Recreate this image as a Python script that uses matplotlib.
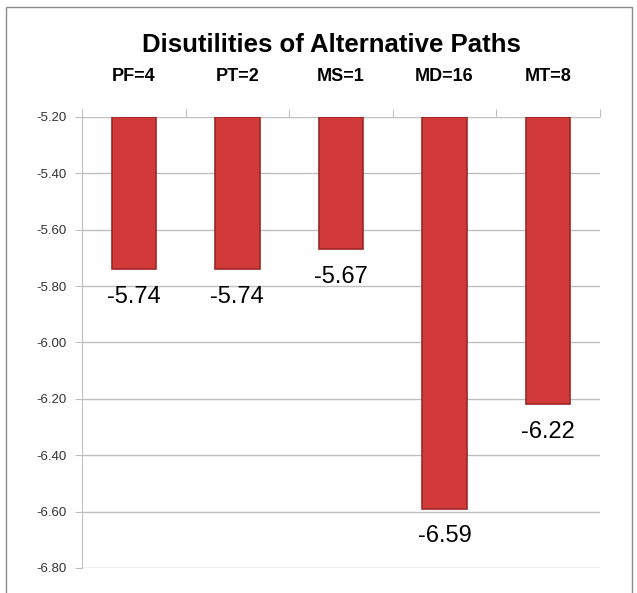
import matplotlib.pyplot as plt
from matplotlib.patches import Rectangle
import numpy as np

plt.rcParams["font.family"] = ["Liberation Sans", "DejaVu Sans"]

categories = ["PF=4", "PT=2", "MS=1", "MD=16", "MT=8"]
values = [-5.74, -5.74, -5.67, -6.59, -6.22]
y_ticks = [-5.20, -5.40, -5.60, -5.80, -6.00, -6.20, -6.40, -6.60, -6.80]
base = -5.20

fig = plt.figure(figsize=(6.37, 5.93), dpi=100)
ax = fig.add_axes([0.1287, 0.0422, 0.813, 0.7605])

# chart border like the excel chart area
fig.patches.append(Rectangle((6 / 637, -0.05), 626 / 637, 1.05 - 7 / 593,
                             transform=fig.transFigure, fill=False,
                             edgecolor="#8c8c8c", linewidth=1.0))

x = np.arange(len(categories))
heights = [v - base for v in values]
ax.bar(x, heights, bottom=base, width=0.43, color="#d23a3a",
       edgecolor="#9e2626", linewidth=1.2, zorder=3)

for xi, v in zip(x, values):
    ax.annotate(f"{v:.2f}", (xi, v), xytext=(0, -12), textcoords="offset points",
                ha="center", va="top", fontsize=17, color="black")

ax.set_xlim(-0.5, len(categories) - 0.5)
ax.set_ylim(-6.80, -5.20)
ax.set_yticks(y_ticks)
ax.set_yticklabels([f"{t:.2f}" for t in y_ticks], fontsize=9.5, color="#333333")
ax.grid(axis="y", color="#bfbfbf", linewidth=1.0, zorder=0)

# category labels on top
ax.xaxis.tick_top()
ax.set_xticks(np.arange(-0.5, len(categories), 1.0))
ax.set_xticklabels([])
ax.tick_params(axis="x", length=6, color="#bfbfbf", direction="out")
ax.tick_params(axis="y", length=5, color="#bfbfbf", pad=6)
for xi, c in zip(x, categories):
    ax.text(xi, 1.09, c, transform=ax.get_xaxis_transform(), ha="center",
            va="center", fontsize=13, fontweight="bold")

for side in ["top", "right", "bottom"]:
    ax.spines[side].set_visible(False)
ax.spines["left"].set_color("#bfbfbf")

fig.text(0.52, 0.924, "Disutilities of Alternative Paths", ha="center",
         va="center", fontsize=18.5, fontweight="bold")

fig.savefig("out.png", dpi=100)
